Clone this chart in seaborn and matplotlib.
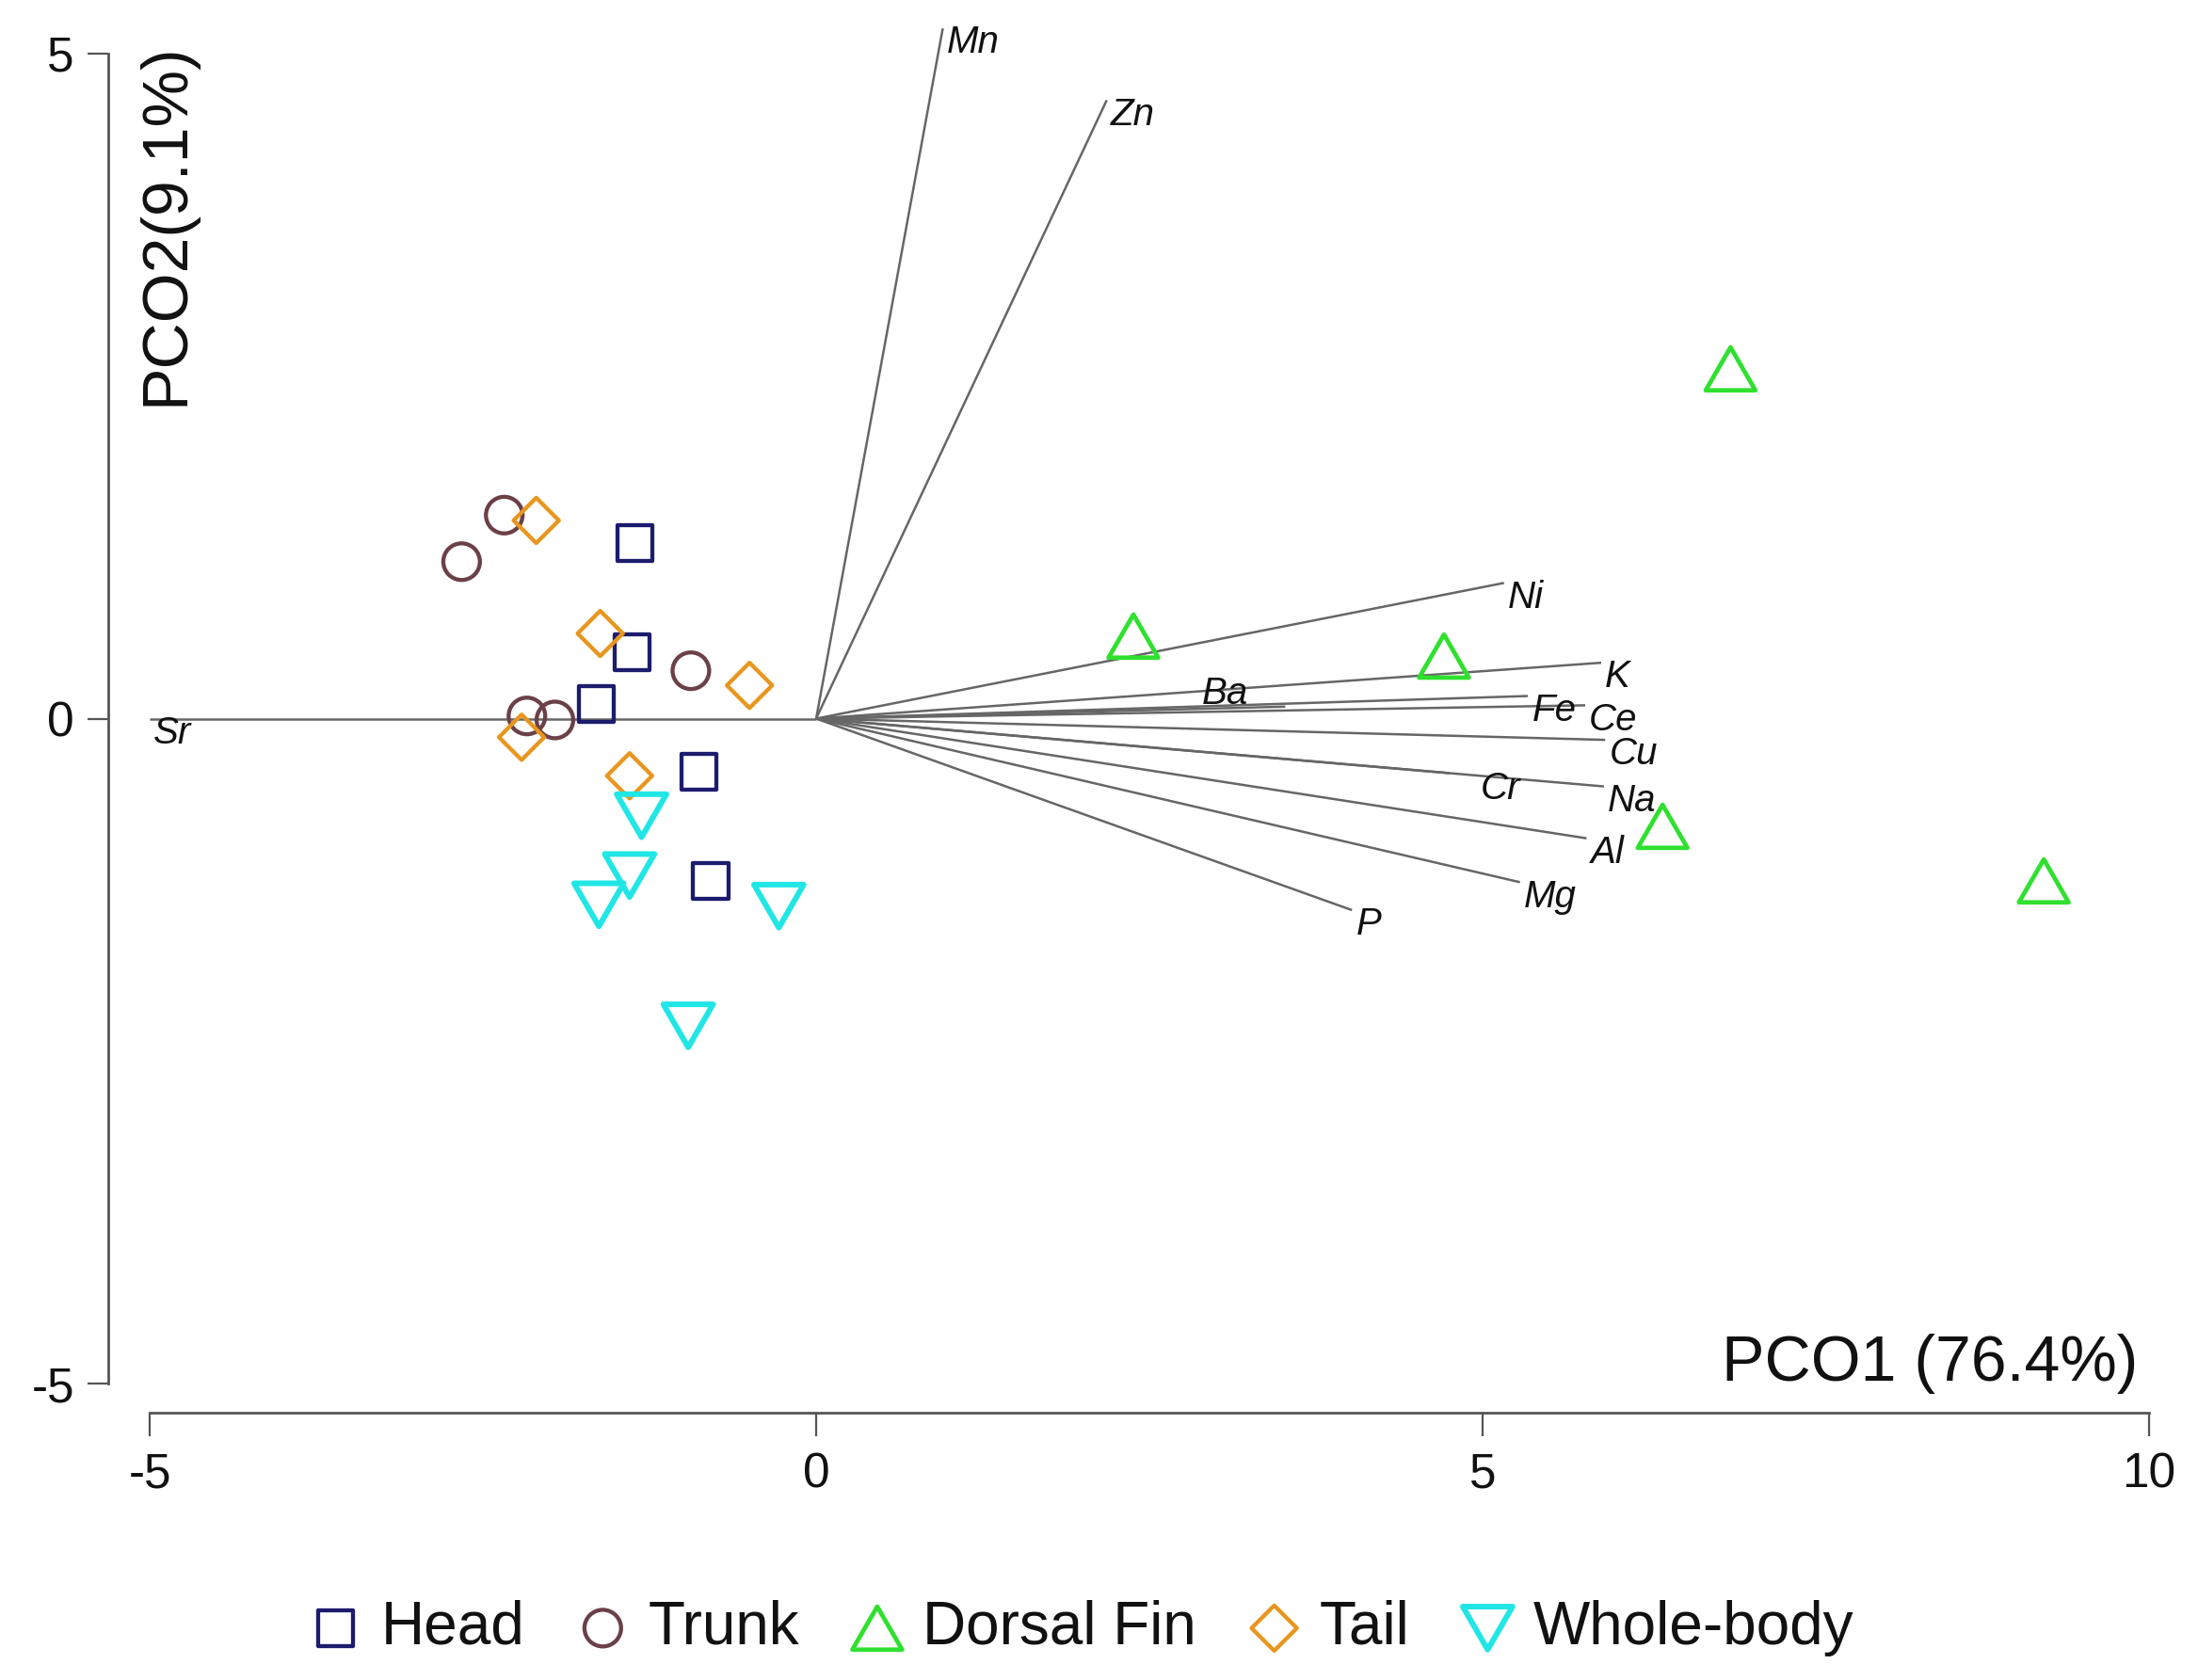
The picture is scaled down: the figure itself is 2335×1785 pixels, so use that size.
import numpy as np
import matplotlib
matplotlib.use("Agg")
import matplotlib.pyplot as plt
from matplotlib.path import Path
import seaborn as sns

# sample scores on the first two principal coordinates
groups = ["Head", "Trunk", "Dorsal Fin", "Tail", "Whole-body"]

head_x = [-1.36, -1.38, -1.65, -0.88, -0.79]
head_y = [1.32, 0.50, 0.11, -0.40, -1.22]
trunk_x = [-2.34, -2.66, -0.94, -2.17, -1.96]
trunk_y = [1.53, 1.18, 0.36, 0.02, -0.01]
fin_x = [6.86, 2.38, 4.71, 6.35, 9.21]
fin_y = [2.63, 0.62, 0.47, -0.81, -1.22]
tail_x = [-2.10, -1.62, -0.50, -2.21, -1.40]
tail_y = [1.49, 0.64, 0.25, -0.14, -0.43]
whole_x = [-1.31, -1.40, -1.63, -0.28, -0.96]
whole_y = [-0.73, -1.18, -1.40, -1.41, -2.31]

# element vectors (Pearson correlation overlay)
elements = ["Sr", "Mn", "Zn", "Ni", "K", "Ba", "Fe", "Ce", "Cu", "Cr", "Na", "Al", "Mg", "P"]
vec_x = [-5.00, 0.95, 2.18, 5.16, 5.89, 3.52, 5.34, 5.77, 5.92, 4.75, 5.91, 5.78, 5.28, 4.02]
vec_y = [0.00, 5.19, 4.65, 1.02, 0.42, 0.09, 0.17, 0.10, -0.16, -0.41, -0.51, -0.90, -1.23, -1.44]

xticks = [-5, 0, 5, 10]
yticks = [-5, 0, 5]

points = {
    "Head": (head_x, head_y),
    "Trunk": (trunk_x, trunk_y),
    "Dorsal Fin": (fin_x, fin_y),
    "Tail": (tail_x, tail_y),
    "Whole-body": (whole_x, whole_y),
}

# closed equilateral triangles, centred on their bounding box
tri_up = Path([(-1, -0.866), (1, -0.866), (0, 0.866), (-1, -0.866)], closed=True)
tri_down = Path([(-1, 0.866), (1, 0.866), (0, -0.866), (-1, 0.866)], closed=True)

style = {
    "Head": dict(color="#1c1c6e", marker="s", size=27, lw=3.1),
    "Trunk": dict(color="#6b4046", marker="o", size=28, lw=3.1),
    "Dorsal Fin": dict(color="#2fe02f", marker=tri_up, size=38, lw=3.4),
    "Tail": dict(color="#e8961e", marker="D", size=24.5, lw=3.1),
    "Whole-body": dict(color="#20e6e6", marker=tri_down, size=38, lw=4.3),
}

# label nudges in points (most labels sit just right of / below the arrow tip)
label_nudge = {"Ba": (-64, 10), "Cr": (24, -12)}

sns.set_theme(style="white")
plt.rcParams["font.family"] = ["Liberation Sans", "DejaVu Sans"]
plt.rcParams["axes.unicode_minus"] = False
plt.rcParams["text.color"] = "#111111"

fig = plt.figure(figsize=(23.35, 17.85), dpi=100)
ax = fig.add_axes([0.04925, 0.1591, 0.94668, 0.83669])
ax.set_xlim(-5.311, 10.3)
ax.set_ylim(-5.219, 5.35)

for ex, ey in zip(vec_x, vec_y):
    ax.plot([0, ex], [0, ey], color="#666666", lw=1.8, zorder=1, solid_capstyle="butt")

for name, ex, ey in zip(elements, vec_x, vec_y):
    dx, dy = label_nudge.get(name, (3, -11))
    ax.annotate(name, (ex, ey), xytext=(dx, dy), textcoords="offset points",
                ha="left", va="center", fontsize=29, style="italic", color="#111111")

for g in groups:
    gx, gy = points[g]
    st = style[g]
    sns.scatterplot(x=gx, y=gy, ax=ax, marker=st["marker"], s=st["size"] ** 2,
                    color=st["color"], facecolor="none", edgecolor=st["color"],
                    linewidth=st["lw"], label=g, zorder=3)

if ax.get_legend() is not None:
    ax.get_legend().remove()

# R-style detached axes
for side in ["top", "right"]:
    ax.spines[side].set_visible(False)
for side in ["left", "bottom"]:
    ax.spines[side].set_color("#555555")
    ax.spines[side].set_linewidth(2.0)
ax.spines["left"].set_bounds(-5, 5)
ax.spines["bottom"].set_bounds(-5, 10)

ax.set_xticks(xticks)
ax.set_xticklabels([str(t) for t in xticks])
ax.set_yticks(yticks)
ax.set_yticklabels([str(t) for t in yticks])
ax.tick_params(axis="x", direction="out", length=18, width=1.6, color="#555555",
               pad=12, labelsize=37, labelcolor="#111111", bottom=True)
ax.tick_params(axis="y", direction="out", length=16, width=1.6, color="#555555",
               pad=10, labelsize=37, labelcolor="#111111", left=True)
ax.set_xlabel("")
ax.set_ylabel("")

ax.text(-4.88, 5.08, "PCO2(9.1%)", rotation=90, ha="center", va="top",
        fontsize=49, color="#111111")
ax.text(9.92, -5.08, "PCO1 (76.4%)", ha="right", va="bottom",
        fontsize=49, color="#111111")

handles, labels = ax.get_legend_handles_labels()
fig.legend(handles, labels, loc="center", bbox_to_anchor=(0.4925, 0.031), ncol=5,
           frameon=False, fontsize=46, handlelength=0.8, handletextpad=0.35,
           columnspacing=0.9, borderaxespad=0, labelcolor="#111111")

fig.savefig("out.png", dpi=100, facecolor="white")
